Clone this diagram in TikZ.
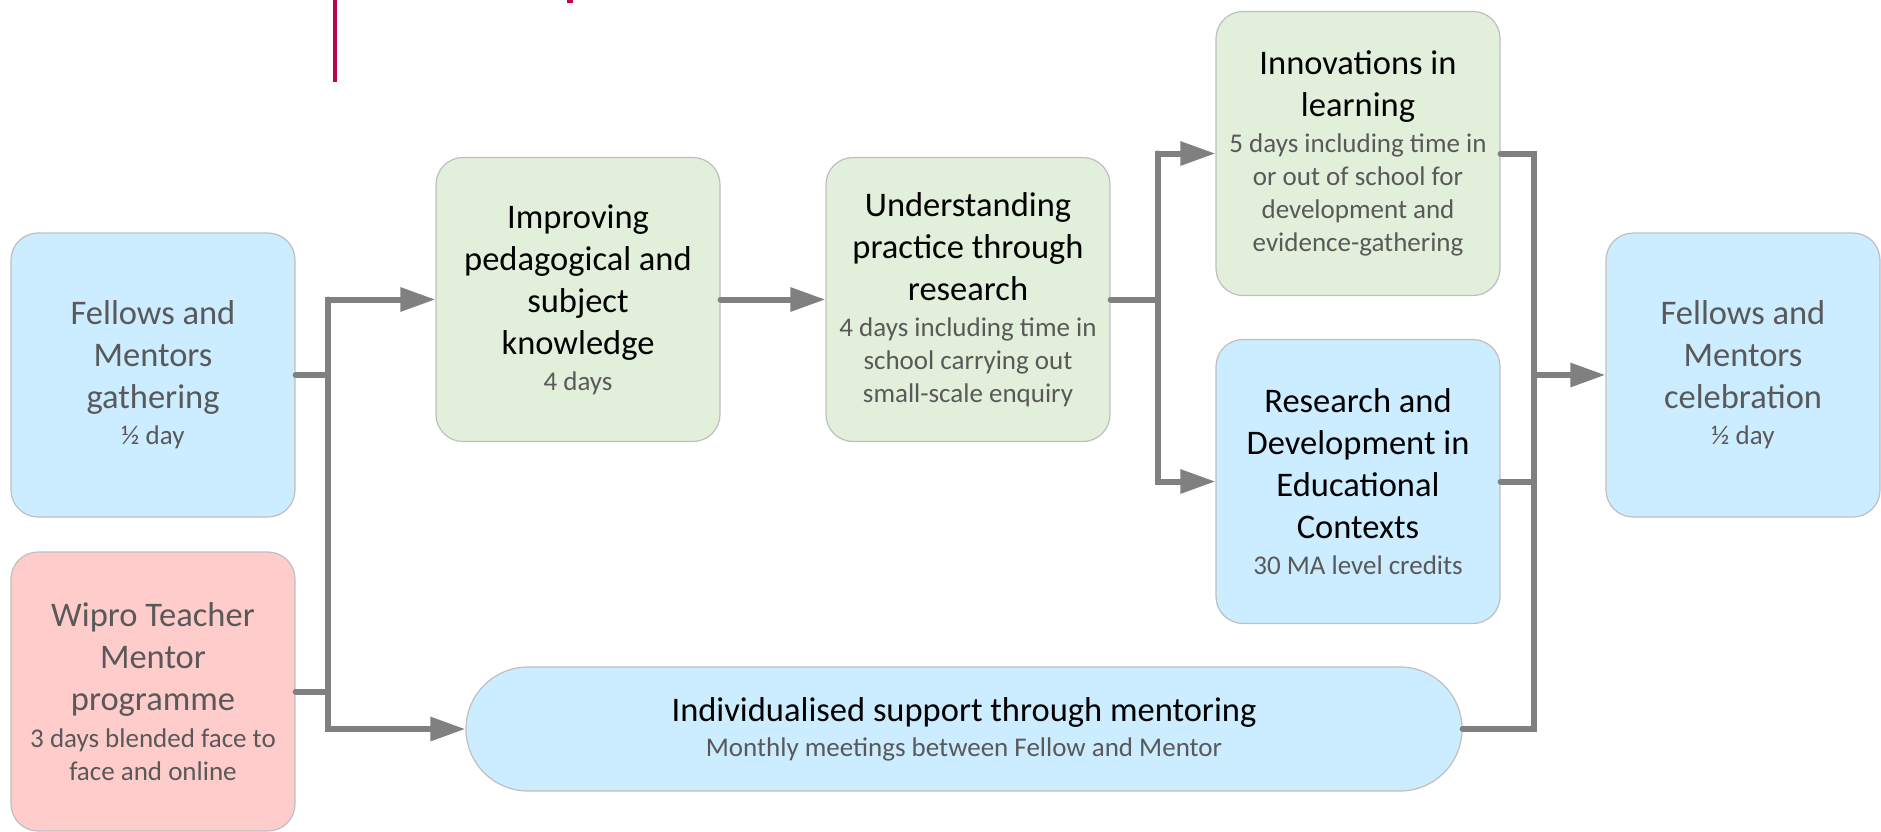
\documentclass[tikz,border=0pt]{standalone}
\usepackage{fontspec}
\setmainfont{Carlito}
\usetikzlibrary{arrows.meta}

\definecolor{boxblue}{RGB}{204,236,255}
\definecolor{boxgreen}{RGB}{226,239,218}
\definecolor{boxpink}{RGB}{255,204,204}
\definecolor{boxedge}{RGB}{191,191,191}
\definecolor{textgray}{RGB}{89,89,89}
\definecolor{linegray}{RGB}{128,128,128}
\definecolor{accentred}{RGB}{192,0,80}

% smaller detail line under a box title
\newcommand\detail[1]{{\fontsize{27}{33}\selectfont\color{textgray}#1}}

\tikzset{
  card/.style={draw=boxedge, line width=1.2pt, rounded corners=27pt,
    minimum width=284pt, minimum height=284pt, align=center, inner sep=0pt,
    font=\fontsize{34.5}{42}\selectfont},
  bluecard/.style={card, fill=boxblue, text=textgray},
  pinkcard/.style={card, fill=boxpink, text=textgray},
  greencard/.style={card, fill=boxgreen, text=black},
  rdcard/.style={card, fill=boxblue, text=black},
  pill/.style={card, fill=boxblue, text=black, rounded corners=62pt,
    minimum width=996pt, minimum height=124pt},
  ln/.style={draw=linegray, line width=6pt, line cap=round, line join=miter},
  arr/.style={ln, -{Triangle[length=35pt,width=23pt]}},
}

\begin{document}
\begin{tikzpicture}[x=1pt,y=-1pt]
\useasboundingbox (0,0) rectangle (1881,832);

% accent marks along the top edge
\fill[accentred] (333,0) rectangle (337,82);
\fill[accentred] (567,0) rectangle (573,3);

% boxes
\node[bluecard] (gather) at (153,375)
  {Fellows and\\Mentors\\gathering\\[-5.7pt]\detail{½ day}};
\node[pinkcard, minimum height=279pt] (wipro) at (153,691.5)
  {Wipro Teacher\\Mentor\\programme\\[-5.7pt]\detail{3 days blended face to}\\[-9pt]\detail{face and online}};
\node[greencard] (improve) at (578,299.5)
  {Improving\\pedagogical and\\subject\\knowledge\\[-5.7pt]\detail{4 days}};
\node[greencard] (underst) at (968,299.5)
  {Understanding\\practice through\\research\\[-5.7pt]\detail{4 days including time in}\\[-9pt]\detail{school carrying out}\\[-9pt]\detail{small-scale enquiry}};
\node[greencard] (innov) at (1358,153.5)
  {Innovations in\\learning\\[-5.7pt]\detail{5 days including time in}\\[-9pt]\detail{or out of school for}\\[-9pt]\detail{development and}\\[-9pt]\detail{evidence-gathering}};
\node[rdcard] (rd) at (1358,481.5)
  {Research and\\Development in\\Educational\\Contexts\\[-5.7pt]\detail{30 MA level credits}};
\node[bluecard, minimum width=274pt] (celeb) at (1743,375)
  {Fellows and\\Mentors\\celebration\\[-5.7pt]\detail{½ day}};
\node[pill] (mentor) at (964,729)
  {Individualised support through mentoring\\[-7pt]\detail{Monthly meetings between Fellow and Mentor}};

% trunk positions
\coordinate (t1) at (328,0);
\coordinate (t2) at (1158,0);
\coordinate (t3) at (1534,0);

% left trunk
\draw[ln] (gather.east) -- (gather.east -| t1);
\draw[ln] (wipro.east) -- (wipro.east -| t1);
\draw[arr] (mentor.west -| t1) -- (improve.west -| t1) -- (improve.west);
\draw[arr] (improve.west -| t1) -- (mentor.west -| t1) -- (mentor.west);

% middle chain
\draw[arr] (improve.east) -- (underst.west);
\draw[ln] (underst.east) -- (underst.east -| t2);
\draw[arr] (rd.west -| t2) -- (innov.west -| t2) -- (innov.west);
\draw[arr] (innov.west -| t2) -- (rd.west -| t2) -- (rd.west);

% right trunk
\draw[ln] (innov.east) -- (innov.east -| t3) -- (mentor.east -| t3) -- (mentor.east);
\draw[ln] (rd.east) -- (rd.east -| t3);
\draw[arr] (celeb.west -| t3) -- (celeb.west);
\end{tikzpicture}
\end{document}
